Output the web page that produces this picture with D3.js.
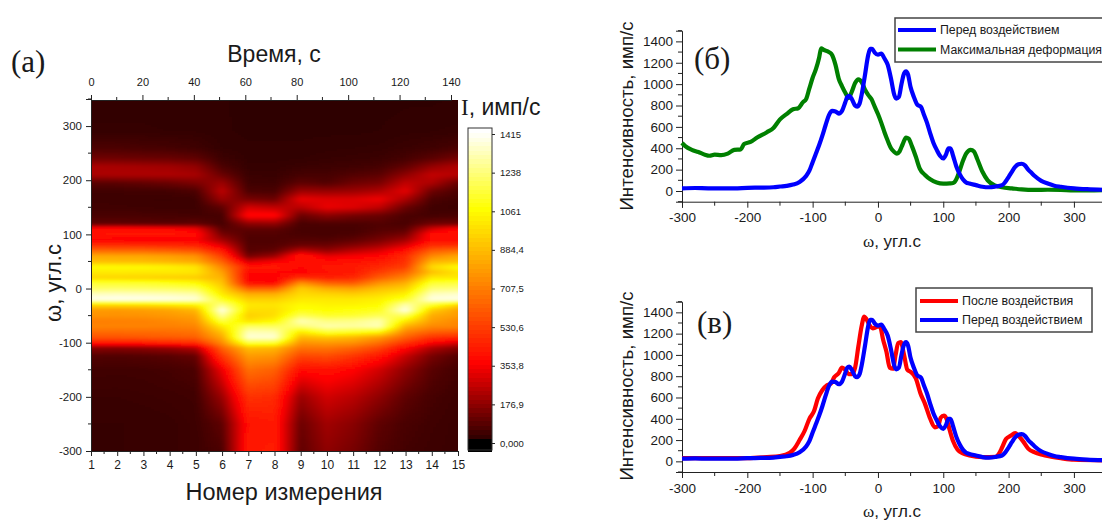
<!DOCTYPE html>
<html><head><meta charset="utf-8">
<script src="https://cdn.jsdelivr.net/npm/d3@7"></script>
<style>
html,body{margin:0;padding:0;background:#fff;overflow:hidden}
svg{display:block}
text{font-family:"Liberation Sans",Arial,sans-serif;fill:#1a1a1a}
.serif{font-family:"Liberation Serif","Times New Roman",serif}
</style></head><body>
<svg id="c" width="1102" height="521"></svg>
<script>
const omegaLevels=[350,290,260,240,225,210,195,180,165,150,135,120,110,100,90,80,70,60,50,40,30,20,10,0,-10,-20,-30,-40,-50,-60,-70,-80,-90,-100,-110,-125,-150,-200,-250,-300];
const m01=[15,22,60,120,215,215,80,40,35,42,55,90,390,400,360,480,640,820,880,1060,1000,950,1130,1200,1320,1400,960,780,760,700,720,650,580,420,160,70,42,30,25,25];
const m02=[15,22,58,118,212,218,85,40,35,40,55,90,395,405,355,475,635,815,875,1055,1005,945,1125,1205,1325,1405,965,775,755,705,715,645,585,425,155,68,40,30,25,25];
const m03=[15,22,52,112,205,220,95,42,33,38,52,85,385,410,350,470,630,810,870,1050,1000,940,1120,1200,1320,1400,975,790,760,710,715,650,595,435,165,72,42,32,26,26];
const m04=[15,20,48,108,198,220,110,45,33,36,50,80,370,410,345,455,610,790,850,1030,1000,930,1095,1190,1310,1390,1000,810,775,730,710,655,610,455,185,80,48,35,28,28];
const m05=[15,20,38,95,175,210,140,60,35,35,46,90,330,390,350,440,580,750,820,990,990,920,1060,1170,1290,1370,1040,860,800,760,720,670,620,480,230,100,60,40,35,35];
const m06=[15,15,20,35,60,110,190,245,190,90,50,50,80,130,200,300,420,520,620,720,800,850,900,950,1000,1100,1250,1380,1280,1150,1000,900,820,740,620,500,330,190,90,60];
const m07=[10,12,15,18,22,30,40,60,130,280,380,170,90,70,65,70,75,130,280,420,370,350,390,620,830,930,1000,970,930,980,1200,1310,1360,1150,880,780,660,490,400,420];
const m08=[10,12,15,18,22,28,35,55,110,250,375,180,90,70,65,70,95,190,340,420,370,350,370,620,830,930,990,970,970,1040,1190,1300,1360,1130,860,760,620,470,420,430];
const m09=[10,12,15,20,30,50,90,190,320,240,110,55,50,55,75,110,240,420,390,370,360,480,760,920,960,1000,1050,1080,1180,1320,1220,1010,860,760,670,540,380,190,110,90];
const m10=[10,12,18,25,35,50,70,180,300,320,165,65,50,50,70,110,180,310,390,410,400,440,620,830,940,1000,1030,1060,1120,1240,1300,1140,900,780,680,560,400,280,200,170];
const m11=[10,12,20,28,40,70,115,190,300,300,130,60,50,60,90,150,240,340,390,420,420,460,600,800,920,1000,1030,1080,1130,1250,1280,1110,860,760,630,500,360,240,160,130];
const m12=[10,14,22,32,50,85,135,220,330,250,110,70,70,95,130,200,290,370,420,460,520,610,760,880,960,1020,1050,1100,1180,1300,1310,1050,780,660,540,410,280,170,90,70];
const m13=[12,18,30,50,95,170,250,310,215,110,60,55,80,130,200,290,400,470,480,520,620,720,840,930,1020,1110,1300,1380,1180,1000,840,720,620,500,370,260,170,90,55,45];
const m14=[12,20,38,85,180,255,220,115,60,40,45,115,280,390,390,470,610,730,850,960,890,1000,1130,1220,1320,1380,1120,920,830,790,730,620,490,360,220,130,80,50,40,35];
const m15=[15,22,55,130,225,235,105,58,40,35,55,120,370,400,370,480,650,810,880,1060,980,1000,1150,1230,1340,1390,950,800,780,730,720,600,470,290,150,70,45,35,30,30];
const measurements=[m01,m02,m03,m04,m05,m06,m07,m08,m09,m10,m11,m12,m13,m14,m15];
const measureTicks=d3.range(1,16);
const timeTicks=[0,20,40,60,80,100,120,140];
const omegaTicks=[-300,-200,-100,0,100,200,300];
const colorTicks=[0,176.9,353.8,530.6,707.5,884.4,1061,1238,1415];
const colorLabels=["0,000","176,9","353,8","530,6","707,5","884,4","1061","1238","1415"];

const beforeW=[-300,-280,-260,-240,-220,-200,-180,-160,-150,-140,-130,-120,-110,-105,-100,-95,-90,-85,-80,-75,-70,-65,-60,-55,-50,-47,-44,-40,-35,-32,-28,-25,-20,-15,-12,-9,-5,0,5,10,15,20,25,28,32,36,40,43,46,50,55,60,66,70,75,80,85,90,95,100,104,108,111,115,120,125,130,135,140,150,160,170,180,190,195,200,205,210,215,220,225,230,235,240,250,260,270,280,300,320,345];
const beforeI=[25,28,25,25,25,30,32,35,42,48,60,85,140,190,270,350,430,520,620,710,750,745,725,750,830,880,890,860,800,790,820,900,1080,1270,1330,1330,1295,1275,1285,1240,1180,1050,900,865,880,1000,1100,1120,1090,970,880,810,785,720,640,540,450,385,330,305,340,400,400,330,230,160,110,80,70,55,40,35,42,55,85,130,180,225,250,255,240,200,170,140,95,70,50,40,25,17,12];
const deformW=[-300,-295,-285,-275,-265,-258,-250,-240,-230,-220,-210,-205,-195,-185,-170,-160,-150,-140,-130,-122,-115,-110,-105,-100,-95,-90,-87,-83,-75,-70,-65,-60,-55,-50,-45,-40,-35,-30,-25,-20,-15,-10,-5,0,5,10,15,20,25,29,33,38,43,47,52,58,64,72,80,90,100,110,115,120,125,130,135,142,147,152,160,168,180,190,205,220,240,260,280,300,345];
const deformI=[450,420,385,365,340,330,340,335,350,385,390,440,460,500,550,590,670,720,765,775,830,860,960,1060,1140,1250,1335,1320,1300,1270,1180,1050,980,920,870,930,1010,1045,1020,950,900,860,790,720,640,550,470,400,365,350,370,440,500,490,420,320,210,150,110,80,70,72,75,110,190,280,350,385,370,300,180,100,50,35,25,15,10,12,10,5,8];
const afterW=[-300,-250,-200,-170,-150,-135,-128,-120,-112,-105,-98,-92,-85,-78,-72,-67,-60,-55,-50,-45,-40,-35,-30,-25,-21,-18,-13,-8,-3,3,8,13,18,23,27,31,35,40,45,50,58,65,72,80,87,92,96,101,105,110,115,122,130,140,160,180,185,190,196,203,210,215,222,230,240,250,265,280,300,345];
const afterI=[30,30,30,40,50,80,120,200,290,400,470,590,670,715,730,790,830,880,860,820,820,880,1080,1270,1360,1340,1280,1250,1260,1270,1140,1030,880,870,1000,1110,1120,1000,860,840,780,640,540,400,320,330,410,430,400,290,190,110,75,55,40,42,70,130,210,240,265,240,190,120,85,65,45,30,15,10];
const legendB=["Перед воздействием","Максимальная деформация"];
const legendV=["После воздействия","Перед воздействием"];
const intensityTicks=[0,200,400,600,800,1000,1200,1400];
const spectrumTicks=[-300,-200,-100,0,100,200,300];

const plainInt=d=>String(d);
const svg=d3.select("#c");
const defs=svg.append("defs");
defs.append("filter").attr("id","soft").attr("x","-5%").attr("y","-5%").attr("width","110%").attr("height","110%")
  .append("feGaussianBlur").attr("stdDeviation","2 1");
defs.append("filter").attr("id","lineSoft").append("feGaussianBlur").attr("stdDeviation","0.35");
defs.append("clipPath").attr("id","hm").append("rect").attr("x",91).attr("y",100).attr("width",367).attr("height",351);
defs.append("clipPath").attr("id","pb").append("rect").attr("x",675).attr("y",25).attr("width",427).attr("height",180);
defs.append("clipPath").attr("id","pv").append("rect").attr("x",675).attr("y",296).attr("width",427).attr("height",180);

const color=d3.scaleLinear().domain([0,8,354,707,1061,1238,1415])
  .range(["#000000","#2c0000","#ff0000","#ff8000","#ffff00","#ffff80","#ffffff"]).clamp(true);

// ---- heatmap
const xM=d3.scaleLinear().domain([1,15]).range([91,458]);
const xT=d3.scaleLinear().domain([0,140]).range([91,451]);
const yW=d3.scaleLinear().domain([-300,350]).range([451,99]);
const asc=omegaLevels.slice().reverse();
function sample(mv,w){
  const i=Math.min(Math.floor(mv)-1,13),f=mv-1-i;
  const j=Math.min(Math.max(d3.bisectRight(asc,w)-1,0),asc.length-2);
  const g=(w-asc[j])/(asc[j+1]-asc[j]);
  const r=k=>omegaLevels.length-1-k;
  const a=measurements[i][r(j)],b=measurements[i+1][r(j)],c=measurements[i][r(j+1)],d=measurements[i+1][r(j+1)];
  return (a*(1-f)+b*f)*(1-g)+(c*(1-f)+d*f)*g;
}
const cells=[];
for(let px=85;px<465;px+=3)for(let py=95;py<456;py+=2){
  const mv=Math.max(1,Math.min(15,xM.invert(px+1.5))),w=Math.max(-300,Math.min(350,yW.invert(py+1)));
  cells.push({px,py,v:sample(mv,w)});
}
svg.append("g").attr("clip-path","url(#hm)").append("g").attr("filter","url(#soft)").attr("shape-rendering","crispEdges")
  .selectAll("rect").data(cells).join("rect")
  .attr("x",d=>d.px).attr("y",d=>d.py).attr("width",3.2).attr("height",2.2).attr("fill",d=>color(d.v));

function styleAxis(g,size,col){
  g.selectAll("path").attr("stroke","#222").attr("stroke-width",1);
  g.selectAll("line").attr("stroke","#222").attr("stroke-width",1);
  g.selectAll("text").attr("font-size",size).attr("fill",col||"#222").attr("font-family",'"Liberation Sans",Arial,sans-serif');
}
function minor(g,scale,values,orient,len){
  g.selectAll(null).data(values).join("line").attr("stroke","#222")
    .attr("x1",d=>orient==="h"?scale(d):0).attr("x2",d=>orient==="h"?scale(d):len)
    .attr("y1",d=>orient==="h"?0:scale(d)).attr("y2",d=>orient==="h"?len:scale(d));
}
let g=svg.append("g").attr("transform","translate(0,451)").call(d3.axisBottom(xM).tickValues(measureTicks).tickSize(5).tickPadding(4).tickFormat(plainInt));
styleAxis(g,12); minor(g,xM,d3.range(1.5,15,1),"h",3);
g=svg.append("g").attr("transform","translate(0,100)").call(d3.axisTop(xT).tickValues(timeTicks).tickSize(5).tickPadding(9).tickFormat(plainInt));
styleAxis(g,11); minor(g,xT,d3.range(10,141,20),"h",-3);
g=svg.append("g").attr("transform","translate(91,0)").call(d3.axisLeft(yW).tickValues(omegaTicks).tickSize(5).tickPadding(4).tickFormat(plainInt));
styleAxis(g,11.5); minor(g,yW,[-250,-150,-50,50,150,250,350],"v",-3);

svg.append("text").attr("x",274).attr("y",62).attr("text-anchor","middle").attr("font-size",23).text("Время, с");
svg.append("text").attr("x",284).attr("y",500).attr("text-anchor","middle").attr("font-size",23.5).text("Номер измерения");
svg.append("text").attr("transform","translate(61,283) rotate(-90)").attr("text-anchor","middle").attr("font-size",22).text("ω, угл.с");
svg.append("text").attr("class","serif").attr("x",11).attr("y",72).attr("font-size",31).text("(a)");
const ilabel=svg.append("text").attr("x",461).attr("y",115).attr("font-size",23);
ilabel.append("tspan").attr("class","serif").text("I");
ilabel.append("tspan").text(", имп/с");

// ---- colour bar
const yC=d3.scaleLinear().domain([0,1415]).range([443,134]);
const barSteps=d3.range(-40,1441,20);
svg.append("g").attr("shape-rendering","crispEdges").selectAll("rect").data(barSteps).join("rect")
  .attr("x",468).attr("width",24).attr("y",d=>yC(d+20)-0.3).attr("height",yC(0)-yC(20)+0.6).attr("fill",d=>color(d<0?0:d));
svg.append("rect").attr("x",468).attr("y",128).attr("width",24).attr("height",322).attr("fill","none").attr("stroke","#333").attr("stroke-width",1);
g=svg.append("g").attr("transform","translate(492,0)").call(d3.axisRight(yC).tickValues(colorTicks).tickSize(3).tickPadding(5).tickFormat((d,i)=>colorLabels[i]));
styleAxis(g,9.5,"#333"); g.select("path").remove();

// ---- spectra
const xS=d3.scaleLinear().domain([-300,343]).range([682,1102]);
function spectrum(y0,yTop,clip,series,ytitleY,titleY){
  const yS=d3.scaleLinear().domain([-100,1500]).range([y0,yTop]);
  let a=svg.append("g").attr("transform",`translate(0,${y0})`).call(d3.axisBottom(xS).tickValues(spectrumTicks).tickSize(6).tickPadding(5).tickFormat(plainInt));
  styleAxis(a,13.5); minor(a,xS,[-250,-150,-50,50,150,250],"h",4);
  a=svg.append("g").attr("transform","translate(682,0)").call(d3.axisLeft(yS).tickValues(intensityTicks).tickSize(6).tickPadding(3).tickFormat(plainInt));
  styleAxis(a,13.5); minor(a,yS,[-100,100,300,500,700,900,1100,1300,1500],"v",-4);
  const line=d3.line().x(d=>xS(d[0])).y(d=>yS(d[1])).curve(d3.curveMonotoneX);
  const gl=svg.append("g").attr("clip-path",`url(#${clip})`);
  series.forEach(s=>{
    gl.append("path").datum(d3.zip(s.w,s.i)).attr("d",line).attr("fill","none").attr("stroke",s.c).attr("stroke-width",4.2).attr("stroke-linejoin","round").attr("filter","url(#lineSoft)");
  });
  svg.append("text").attr("transform",`translate(633,${ytitleY}) rotate(-90)`).attr("text-anchor","middle").attr("font-size",18.7).text("Интенсивность, имп/с");
  const t=svg.append("text").attr("x",892).attr("y",titleY).attr("text-anchor","middle").attr("font-size",17);
  t.append("tspan").attr("class","serif").text("ω");
  t.append("tspan").text(", угл.с");
}
spectrum(201.7,30.7,"pb",[{w:deformW,i:deformI,c:"#008000"},{w:beforeW,i:beforeI,c:"#0000ff"}],116,247);
spectrum(472,301.7,"pv",[{w:afterW,i:afterI,c:"#ff0000"},{w:beforeW,i:beforeI,c:"#0000ff"}],386,517);
svg.append("text").attr("class","serif").attr("x",694).attr("y",69).attr("font-size",31).text("(б)");
svg.append("text").attr("class","serif").attr("x",697).attr("y",333).attr("font-size",31).text("(в)");

function legend(x,y,w,h,labels,cols,lx,tx,rows,fs){
  svg.append("rect").attr("x",x).attr("y",y).attr("width",w).attr("height",h).attr("fill","#fff").attr("stroke","#444").attr("stroke-width",1.5);
  labels.forEach((l,i)=>{
    svg.append("line").attr("x1",lx).attr("x2",lx+38).attr("y1",rows[i]).attr("y2",rows[i]).attr("stroke",cols[i]).attr("stroke-width",4);
    svg.append("text").attr("x",tx).attr("y",rows[i]+4).attr("font-size",fs).text(l);
  });
}
legend(895,18,215,44,legendB,["#0000ff","#008000"],898,940,[30,49.5],12.3);
legend(916,288,176,44,legendV,["#ff0000","#0000ff"],920,962,[301,320],12.4);
</script></body></html>
